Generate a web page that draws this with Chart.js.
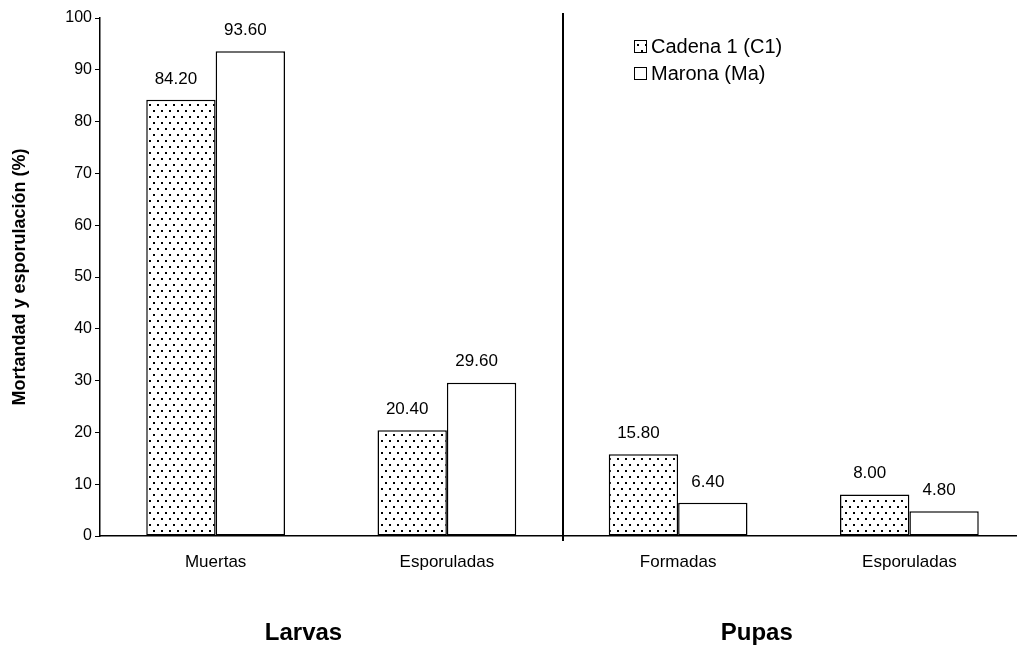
<!DOCTYPE html>
<html>
<head>
<meta charset="utf-8">
<script src="https://cdn.jsdelivr.net/npm/chart.js@4.4.0/dist/chart.umd.min.js"></script>
<style>
    html, body { margin: 0; padding: 0; background: #fff; overflow: hidden; }
</style>
</head>
<body>
<canvas id="chart" width="1025" height="647"></canvas>
<script>
// data
const categories = ['Muertas', 'Esporuladas', 'Formadas', 'Esporuladas'];
const seriesLabels = ['Cadena 1 (C1)', 'Marona (Ma)'];
const cadenaValues = [84.2, 20.4, 15.8, 8.0];
const maronaValues = [93.6, 29.6, 6.4, 4.8];
const groupLabels = ['Larvas', 'Pupas'];
const yAxisTitle = 'Mortandad y esporulación (%)';

const FONT = '"Liberation Sans", Arial, sans-serif';

// dotted fill like the old Excel pattern
function makeDotPattern() {
    const tile = document.createElement('canvas');
    tile.width = 8;
    tile.height = 12;
    const t = tile.getContext('2d');
    t.fillStyle = '#fff';
    t.fillRect(0, 0, 8, 12);
    t.fillStyle = '#000';
    t.fillRect(1, 2, 2, 2);
    t.fillRect(5, 8, 2, 2);
    return document.getElementById('chart').getContext('2d').createPattern(tile, 'repeat');
}
const dotPattern = makeDotPattern();

// value labels above bars
const valueLabels = {
    id: 'valueLabels',
    afterDatasetsDraw(chart) {
        const ctx = chart.ctx;
        ctx.save();
        ctx.font = '17px ' + FONT;
        ctx.fillStyle = '#000';
        ctx.textAlign = 'center';
        ctx.textBaseline = 'middle';
        chart.data.datasets.forEach((ds, i) => {
            chart.getDatasetMeta(i).data.forEach((bar, j) => {
                ctx.fillText(ds.data[j].toFixed(2), bar.x - 5, bar.y - 21);
            });
        });
        ctx.restore();
    }
};

// vertical divider, group labels and the legend
const extras = {
    id: 'extras',
    afterDraw(chart) {
        const ctx = chart.ctx;
        const x = chart.scales.x;
        const area = chart.chartArea;
        ctx.save();

        const divX = Math.round(x.getPixelForValue(1.5));
        ctx.strokeStyle = '#000';
        ctx.lineWidth = 2;
        ctx.beginPath();
        ctx.moveTo(divX, 13);
        ctx.lineTo(divX, area.bottom + 5);
        ctx.stroke();

        ctx.fillStyle = '#000';
        ctx.font = 'bold 24px ' + FONT;
        ctx.textAlign = 'center';
        ctx.textBaseline = 'middle';
        ctx.fillText(groupLabels[0], x.getPixelForValue(0.38), 633);
        ctx.fillText(groupLabels[1], x.getPixelForValue(2.34), 633);

        // legend
        ctx.font = '20px ' + FONT;
        ctx.textAlign = 'left';
        chart.data.datasets.forEach((ds, i) => {
            const cy = 46 + i * 27;
            ctx.fillStyle = ds.backgroundColor;
            ctx.fillRect(634, cy - 6, 12, 12);
            ctx.lineWidth = 1;
            ctx.strokeStyle = '#000';
            ctx.strokeRect(634.5, cy - 5.5, 12, 12);
            ctx.fillStyle = '#000';
            ctx.fillText(ds.label, 651, cy + 1);
        });
        ctx.restore();
    }
};

new Chart(document.getElementById('chart'), {
    type: 'bar',
    data: {
        labels: categories,
        datasets: [
            {
                label: seriesLabels[0],
                data: cadenaValues,
                backgroundColor: dotPattern,
                borderColor: '#000',
                borderWidth: 1.5,
                borderSkipped: false
            },
            {
                label: seriesLabels[1],
                data: maronaValues,
                backgroundColor: '#fff',
                borderColor: '#000',
                borderWidth: 1.5,
                borderSkipped: false
            }
        ]
    },
    options: {
        responsive: false,
        animation: false,
        devicePixelRatio: 1,
        layout: { padding: { top: 18, right: 0, bottom: 0, left: 0 } },
        datasets: { bar: { categoryPercentage: 0.6, barPercentage: 1.0 } },
        scales: {
            x: {
                grid: { display: true, drawOnChartArea: false, drawTicks: false },
                border: { display: true, color: '#000', width: 1.5 },
                ticks: { color: '#000', font: { family: FONT, size: 17 }, padding: 16 },
                afterFit(scale) { scale.height = 111; }
            },
            y: {
                min: 0,
                max: 100,
                ticks: { stepSize: 10, color: '#000', font: { family: FONT, size: 16 }, padding: 3 },
                grid: { drawOnChartArea: false, drawTicks: true, tickLength: 5, color: '#000' },
                border: { display: true, color: '#000', width: 1.5 },
                title: {
                    display: true,
                    text: yAxisTitle,
                    color: '#000',
                    font: { family: FONT, size: 18, weight: 'bold' },
                    padding: { top: 9, bottom: 0 }
                },
                afterFit(scale) { scale.width = 100; }
            }
        },
        plugins: {
            legend: { display: false },
            tooltip: { enabled: false }
        }
    },
    plugins: [valueLabels, extras]
});
</script>
</body>
</html>
